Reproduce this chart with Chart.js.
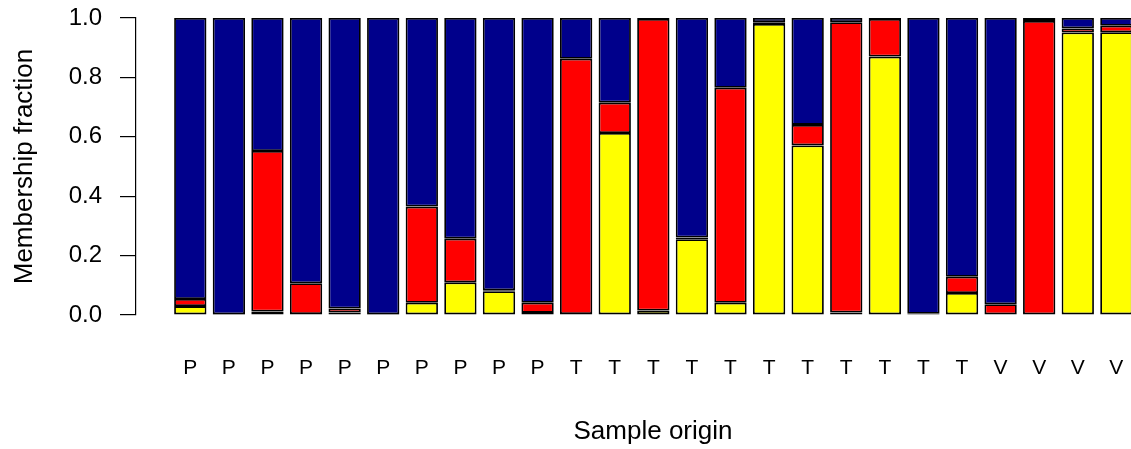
<!DOCTYPE html>
<html>
<head>
<meta charset="utf-8">
<script src="https://cdn.jsdelivr.net/npm/chart.js@4"></script>
<style>
  html, body { margin: 0; padding: 0; background: #ffffff; overflow: hidden; }
  #wrap { width: 1131px; height: 449px; overflow: hidden; position: relative; }
  #c { position: absolute; left: 0; top: 0; }
</style>
</head>
<body>
<div id="wrap"><canvas id="c" width="1170" height="449"></canvas></div>
<script>
// Sample origin label for each bar
const categories = ["P","P","P","P","P","P","P","P","P","P",
                    "T","T","T","T","T","T","T","T","T","T","T",
                    "V","V","V","V"];
// Membership fractions (stacked bottom -> top: yellow, red, blue)
const yellowValues = [0.030,0.001,0.012,0.003,0.008,0.001,0.041,0.110,0.080,0.007,
                      0.003,0.613,0.015,0.255,0.041,0.980,0.571,0.008,0.870,0.002,0.074,
                      0.002,0.002,0.951,0.952];
const redValues    = [0.024,0.001,0.540,0.104,0.014,0.001,0.324,0.147,0.003,0.034,
                      0.860,0.102,0.982,0.006,0.724,0.006,0.069,0.978,0.127,0.002,0.055,
                      0.034,0.988,0.014,0.022];
const blueValues   = [0.946,0.998,0.448,0.893,0.978,0.998,0.635,0.743,0.917,0.959,
                      0.137,0.285,0.003,0.739,0.235,0.014,0.360,0.014,0.003,0.996,0.871,
                      0.964,0.010,0.035,0.026];
const yTicks = [0, 0.2, 0.4, 0.6, 0.8, 1.0];

const toPoints = arr => arr.map((v, i) => ({x: i, y: v}));
const barStyle = {
  borderColor: '#000000',
  borderWidth: 1.8,
  borderSkipped: false,
  categoryPercentage: 1,
  barPercentage: 0.8375,
  clip: false
};

new Chart(document.getElementById('c'), {
  type: 'bar',
  data: {
    datasets: [
      Object.assign({label: 'yellow', data: toPoints(yellowValues), backgroundColor: '#FFFF00'}, barStyle),
      Object.assign({label: 'red',    data: toPoints(redValues),    backgroundColor: '#FF0000'}, barStyle),
      Object.assign({label: 'blue',   data: toPoints(blueValues),   backgroundColor: '#00008B'}, barStyle)
    ]
  },
  options: {
    responsive: false,
    animation: false,
    devicePixelRatio: 1,
    layout: { padding: { top: 18, left: 0, right: 0, bottom: 0 } },
    plugins: { legend: { display: false }, tooltip: { enabled: false } },
    scales: {
      x: {
        type: 'linear',
        stacked: true,
        offset: false,
        min: -1.407,
        max: 25.39,
        afterFit: s => { s.height = 134; s.paddingLeft = 0; s.paddingRight = 0; },
        grid: { display: false, drawTicks: false, offset: false },
        border: { display: false },
        ticks: {
          stepSize: 1,
          includeBounds: false,
          autoSkip: false,
          maxRotation: 0,
          padding: 41,
          color: '#000000',
          font: { family: '"Liberation Sans", Arial, sans-serif', size: 21 },
          callback: v => (Number.isInteger(v) && categories[v] !== undefined) ? categories[v] : ''
        },
        title: {
          display: true,
          text: 'Sample origin',
          color: '#000000',
          font: { family: '"Liberation Sans", Arial, sans-serif', size: 26 },
          padding: { top: 0, bottom: 1.5 }
        }
      },
      y: {
        stacked: true,
        min: 0,
        max: 1,
        afterFit: s => { s.width = 136; s.paddingTop = 0; s.paddingBottom = 0; },
        afterBuildTicks: s => { s.ticks = yTicks.map(v => ({value: v})); },
        grid: { display: true, drawOnChartArea: false, drawTicks: true, tickLength: 16, color: '#000000', lineWidth: 1.2 },
        border: { display: true, color: '#000000', width: 1.2 },
        ticks: {
          padding: 18,
          color: '#000000',
          font: { family: '"Liberation Sans", Arial, sans-serif', size: 24 },
          callback: v => Number(v).toFixed(1)
        },
        title: {
          display: true,
          text: 'Membership fraction',
          color: '#000000',
          font: { family: '"Liberation Sans", Arial, sans-serif', size: 26 },
          padding: { top: 9, bottom: 0 }
        }
      }
    }
  }
});
</script>
</body>
</html>
